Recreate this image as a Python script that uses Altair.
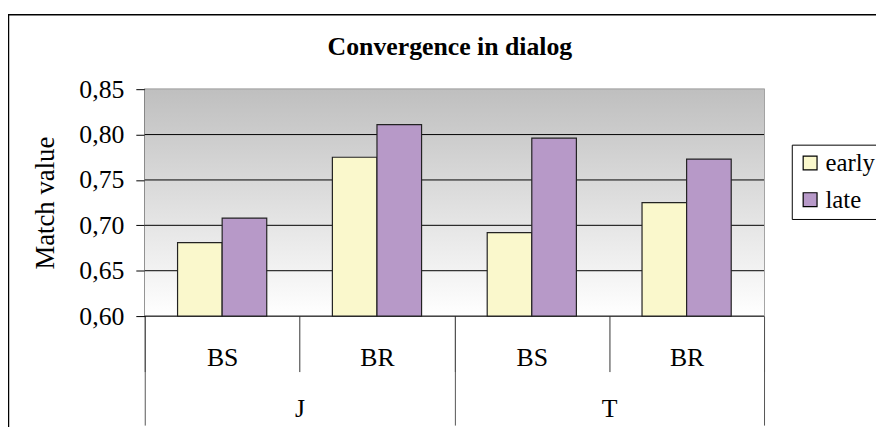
import altair as alt
import pandas as pd

title_text = "Convergence in dialog"
groups = ["J", "J", "T", "T"]
subgroups = ["BS", "BR", "BS", "BR"]
early = [0.681, 0.775, 0.692, 0.725]
late = [0.708, 0.811, 0.796, 0.773]
series = ["early", "late"]
colors = ["#FAF8CC", "#B799C8"]
y_ticks = [0.60, 0.65, 0.70, 0.75, 0.80, 0.85]
grid_values = [0.60, 0.65, 0.70, 0.75, 0.80]
y_base = 0.60

cells = [f"{g}|{s}" for g, s in zip(groups, subgroups)]
rows = []
for c, g, e, l in zip(cells, groups, early, late):
    rows.append({"cell": c, "group": g, "series": "early", "value": e})
    rows.append({"cell": c, "group": g, "series": "late", "value": l})
df = pd.DataFrame(rows)

W, H = 625, 229
FONT = "Liberation Serif"
yscale = alt.Scale(domain=[0.6, 0.85], zero=False, nice=False)
yaxis = alt.Axis(
    values=y_ticks,
    labelExpr="replace(format(datum.value, '.2f'), '.', ',')",
    labelFont=FONT, labelFontSize=26, labelColor="#000", labelPadding=12,
    tickSize=9, tickColor="#000", domainColor="#333", grid=False,
    title="Match value", titleFont=FONT, titleFontSize=27,
    titleFontWeight="normal", titleColor="#000", titlePadding=20,
)

one = pd.DataFrame({"a": [0]})

frame = alt.Chart(one).mark_rect(fillOpacity=0, stroke="#000", strokeWidth=1.5).encode(
    x=alt.value(-137.5), x2=alt.value(W + 300), y=alt.value(-75), y2=alt.value(H + 300)
)

title = alt.Chart(one).mark_text(
    text=title_text, font=FONT, fontSize=26, fontWeight="bold", color="#000",
    align="center", baseline="alphabetic"
).encode(x=alt.value(308), y=alt.value(-35))

bg = alt.Chart(one).mark_rect(
    color=alt.Gradient(
        gradient="linear",
        stops=[alt.GradientStop(color="#BFBFBF", offset=0),
               alt.GradientStop(color="#FFFFFF", offset=1)],
        x1=0, x2=0, y1=0, y2=1,
    )
).encode(x=alt.value(0), x2=alt.value(W), y=alt.value(0), y2=alt.value(H))

grid = alt.Chart(pd.DataFrame({"v": grid_values})).mark_rule(color="#000", strokeWidth=1).encode(
    y=alt.Y("v:Q", scale=yscale, axis=yaxis), x=alt.value(0), x2=alt.value(W)
)

bars = alt.Chart(df).mark_bar(stroke="#222", strokeWidth=1.2).encode(
    x=alt.X("cell:N", sort=cells,
            scale=alt.Scale(type="band", paddingInner=0, paddingOuter=0),
            axis=alt.Axis(title=None, labelExpr="split(datum.value, '|')[1]", labelAngle=0,
                          labelFont=FONT, labelFontSize=26, labelColor="#000",
                          tickBand="extent", tickSize=56, tickColor="#333", ticks=True,
                          domain=False, grid=False, labelPadding=-27, orient="bottom")),
    xOffset=alt.XOffset("series:N", sort=series,
                        scale=alt.Scale(paddingInner=0, paddingOuter=0.736)),
    y=alt.Y("value:Q", scale=yscale, axis=yaxis),
    y2=alt.datum(y_base),
    color=alt.Color("series:N", scale=alt.Scale(domain=series, range=colors),
                    legend=alt.Legend(title=None, orient="none", legendX=653, legendY=56,
                                      labelFont=FONT, labelFontSize=25, labelColor="#000",
                                      symbolType="square", symbolSize=196,
                                      symbolStrokeColor="#000", symbolStrokeWidth=1.2,
                                      strokeColor="#000", padding=6, rowPadding=11,
                                      fillColor="#fff", labelOffset=3)),
)

grp = alt.Chart(df).mark_rule(opacity=0).encode(
    x=alt.X("group:N", sort=["J", "T"],
            scale=alt.Scale(type="band", paddingInner=0, paddingOuter=0),
            axis=alt.Axis(title=None, labelAngle=0, labelFont=FONT, labelFontSize=26,
                          labelColor="#000", tickBand="extent", tickSize=110,
                          tickColor="#555", domain=False, grid=False,
                          labelPadding=-30, orient="bottom"))
)

chart = alt.layer(frame, title, bg, grid, bars, grp).resolve_scale(x="independent").properties(
    width=W, height=H,
    autosize=alt.AutoSizeParams(type="none"),
    padding={"left": 138, "top": 80, "right": 113, "bottom": 110},
    background="#FFFFFF",
).configure_view(stroke="#888", strokeWidth=1.5)

chart.save("out.html", embed_options={"renderer": "svg", "actions": False})
